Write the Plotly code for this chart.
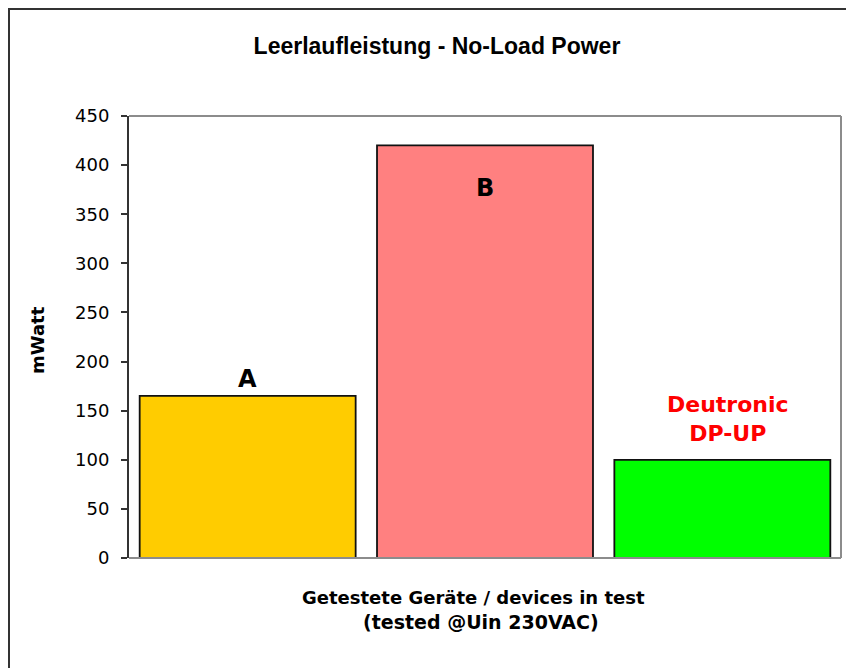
import plotly.graph_objects as go

categories = ["A", "B", "Deutronic DP-UP"]
values = [165, 420, 100]
bar_colors = ["#FFCC00", "#FF8080", "#00FF00"]
y_ticks = [0, 50, 100, 150, 200, 250, 300, 350, 400, 450]

# page shows the figure with an 8px body margin; coordinates below are figure pixels
W, H = 854, 668
L, R, T, B = 121, 21, 108, 118
PW, PH = W - L - R, H - T - B

def px(x):
    return (x - L) / PW

def py(y):
    return (H - B - y) / PH

FONT = "DejaVu Sans"

fig = go.Figure()
fig.add_trace(go.Bar(
    x=categories, y=values,
    marker=dict(color=bar_colors, line=dict(color="#111111", width=1.8)),
    width=0.91, showlegend=False, hoverinfo="skip",
))

annotations = [
    dict(x=categories[0], y=values[0], xref="x", yref="y", text="<b>A</b>",
         showarrow=False, yanchor="bottom", yshift=1,
         font=dict(family=FONT, size=24, color="black")),
    dict(x=categories[1], y=values[1], xref="x", yref="y", text="<b>B</b>",
         showarrow=False, yanchor="top", yshift=-27,
         font=dict(family=FONT, size=24, color="black")),
    dict(x=categories[2], y=values[2], xref="x", yref="y",
         text="<b>Deutronic</b><br><b>DP-UP</b>",
         showarrow=False, yanchor="bottom", yshift=12, xshift=6,
         font=dict(family=FONT, size=22, color="#FF0000")),
    dict(x=px(29), y=py(332), xref="paper", yref="paper", text="<b>mWatt</b>",
         textangle=-90, showarrow=False, xanchor="center", yanchor="middle",
         font=dict(family=FONT, size=18, color="black")),
    dict(x=px(465), y=py(589), xref="paper", yref="paper",
         text="<b>Getestete Geräte / devices in test</b>",
         showarrow=False, xanchor="center", yanchor="middle",
         font=dict(family=FONT, size=18, color="black")),
    dict(x=px(473), y=py(614), xref="paper", yref="paper",
         text="<b>(tested @Uin 230VAC)</b>",
         showarrow=False, xanchor="center", yanchor="middle",
         font=dict(family=FONT, size=19, color="black")),
]

shapes = [
    # outer chart border (left and top)
    dict(type="line", xref="paper", yref="paper", x0=px(1), x1=px(1), y0=py(0), y1=py(H + 5),
         line=dict(color="#333333", width=2)),
    dict(type="line", xref="paper", yref="paper", x0=px(0), x1=px(W + 5), y0=py(1), y1=py(1),
         line=dict(color="#333333", width=2)),
    # plot area frame: top, right and bottom grey
    dict(type="line", xref="paper", yref="paper", x0=0, x1=1, y0=1, y1=1,
         line=dict(color="#8C8C8C", width=2)),
    dict(type="line", xref="paper", yref="paper", x0=1, x1=1, y0=0, y1=1,
         line=dict(color="#8C8C8C", width=2)),
    dict(type="line", xref="paper", yref="paper", x0=0, x1=1, y0=0, y1=0,
         line=dict(color="#8C8C8C", width=2)),
]

fig.update_layout(
    width=W, height=H,
    margin=dict(l=L, r=R, t=T, b=B),
    paper_bgcolor="white", plot_bgcolor="white",
    title=dict(text="<b>Leerlaufleistung - No-Load Power</b>",
               x=429 / W, xanchor="center", xref="container",
               y=1 - 38 / H, yanchor="middle", yref="container",
               font=dict(family="Liberation Sans", size=23, color="black")),
    annotations=annotations,
    shapes=shapes,
    bargap=0.09,
)
fig.update_xaxes(showticklabels=False, ticks="", showline=False, showgrid=False,
                 zeroline=False)
fig.update_yaxes(range=[0, 450], tickvals=y_ticks, ticks="outside", ticklen=6,
                 tickcolor="#333333", tickwidth=1.5, showgrid=False, zeroline=False,
                 showline=True, linecolor="#333333", linewidth=2,
                 ticklabelstandoff=8,
                 tickfont=dict(family=FONT, size=18, color="black"))

fig.write_html("out.html")
